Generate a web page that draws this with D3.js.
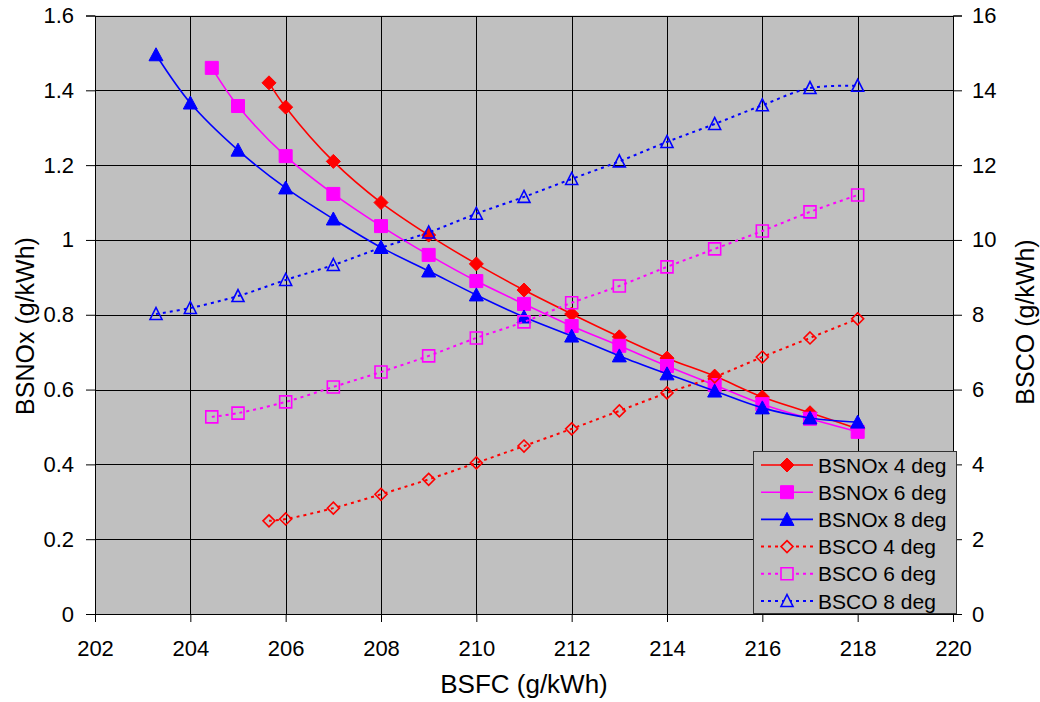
<!DOCTYPE html>
<html><head><meta charset="utf-8">
<script src="https://cdn.jsdelivr.net/npm/d3@7"></script>
<style>body{margin:0;background:#fff}svg{display:block;font-family:"Liberation Sans",Arial,sans-serif}</style>
</head><body><svg id="chart" width="1040" height="702"></svg>
<script>
// ---- data ----
const nox4X = [205.65,206,207,208,209,210,211,212,213,214,215,216,217,218];
const nox4  = [1.42,1.355,1.21,1.10,1.013,0.936,0.866,0.802,0.741,0.684,0.636,0.58,0.538,0.495];
const nox6X = [204.45,205,206,207,208,209,210,211,212,213,214,215,216,217,218];
const nox6  = [1.46,1.358,1.224,1.123,1.037,0.96,0.89,0.829,0.77,0.717,0.663,0.612,0.561,0.522,0.487];
const nox8X = [203.28,204,205,206,207,208,209,210,211,212,213,214,215,216,217,218];
const nox8  = [1.495,1.366,1.24,1.139,1.056,0.98,0.917,0.853,0.794,0.743,0.69,0.642,0.596,0.551,0.524,0.513];
const co4X = [205.65,206,207,208,209,210,211,212,213,214,215,216,217,218];
const co4  = [2.49,2.54,2.83,3.2,3.6,4.04,4.49,4.95,5.43,5.91,6.34,6.87,7.38,7.89];
const co6X = [204.45,205,206,207,208,209,210,211,212,213,214,215,216,217,218];
const co6  = [5.27,5.37,5.67,6.07,6.47,6.9,7.38,7.81,8.32,8.77,9.28,9.76,10.24,10.75,11.2];
const co8X = [203.28,204,205,206,207,208,209,210,211,212,213,214,215,216,217,218];
const co8  = [8.02,8.18,8.5,8.93,9.33,9.79,10.2,10.7,11.15,11.63,12.1,12.62,13.1,13.6,14.06,14.12];
const xTicks = [202,204,206,208,210,212,214,216,218,220];
const yTicks = [0,0.2,0.4,0.6,0.8,1,1.2,1.4,1.6];
const y2Ticks = [0,2,4,6,8,10,12,14,16];
const seriesNames = ["BSNOx 4 deg","BSNOx 6 deg","BSNOx 8 deg","BSCO 4 deg","BSCO 6 deg","BSCO 8 deg"];
const seriesColors = ["#ff0000","#ff00ff","#0000ff","#ff0000","#ff00ff","#0000ff"];
const xTitle = "BSFC (g/kWh)", yTitle = "BSNOx (g/kWh)", y2Title = "BSCO (g/kWh)";

// ---- layout ----
const W = 1040, H = 702;
const L = 95, R = 953, T = 15.5, B = 614;
const svg = d3.select("#chart");
const x = d3.scaleLinear().domain([202,220]).range([L,R]);
const y = d3.scaleLinear().domain([0,1.6]).range([B,T]);
const y2 = d3.scaleLinear().domain([0,16]).range([B,T]);

svg.append("rect").attr("x",L).attr("y",T).attr("width",R-L).attr("height",B-T).attr("fill","#c0c0c0");

// grid
const g = svg.append("g").attr("shape-rendering","crispEdges");
g.selectAll(".hg").data(yTicks).join("line")
  .attr("x1",L).attr("x2",R).attr("y1",d=>Math.round(y(d))+0.5).attr("y2",d=>Math.round(y(d))+0.5)
  .attr("stroke","#000").attr("stroke-width",1);
g.selectAll(".vg").data(xTicks).join("line")
  .attr("y1",T).attr("y2",B).attr("x1",d=>Math.round(x(d))+0.5).attr("x2",d=>Math.round(x(d))+0.5)
  .attr("stroke","#000").attr("stroke-width",1);

// axes
const fmt = d3.format("~g");
const axL = svg.append("g").attr("transform",`translate(${L},0)`)
  .call(d3.axisLeft(y).tickValues(yTicks).tickFormat(fmt).tickSize(9).tickPadding(12));
const axR = svg.append("g").attr("transform",`translate(${R},0)`)
  .call(d3.axisRight(y2).tickValues(y2Ticks).tickFormat(fmt).tickSize(9).tickPadding(10));
const axB = svg.append("g").attr("transform",`translate(0,${B})`)
  .call(d3.axisBottom(x).tickValues(xTicks).tickFormat(fmt).tickSize(8).tickPadding(18));
[axL,axR,axB].forEach(a=>{
  a.select(".domain").attr("stroke","#000");
  a.selectAll(".tick line").attr("stroke","#000");
  a.selectAll("text").attr("font-size",22).attr("fill","#000").attr("font-family",'"Liberation Sans",Arial,sans-serif');
});

// titles
svg.append("text").attr("x",(L+R)/2).attr("y",693).attr("text-anchor","middle").attr("font-size",26).text(xTitle);
svg.append("text").attr("transform","translate(34,326) rotate(-90)").attr("text-anchor","middle").attr("font-size",25).text(yTitle);
svg.append("text").attr("transform","translate(1034,322) rotate(-90)").attr("text-anchor","middle").attr("font-size",25).text(y2Title);

// markers
function markerPath(type, open){
  if(type==="diamond"){ const r = open?6:7; return `M0,${-r}L${r},0L0,${r}L${-r},0Z`; }
  if(type==="square"){ const r = open?6:6.5; return `M${-r},${-r}H${r}V${r}H${-r}Z`; }
  const w = open?6:7, h1 = open?6.5:7, h2 = open?5.5:6; return `M0,${-h1}L${w},${h2}L${-w},${h2}Z`;
}
const types = ["diamond","square","triangle","diamond","square","triangle"];
const series = [
  {xs:nox4X, ys:nox4, sc:y, open:false},
  {xs:nox6X, ys:nox6, sc:y, open:false},
  {xs:nox8X, ys:nox8, sc:y, open:false},
  {xs:co4X, ys:co4, sc:y2, open:true},
  {xs:co6X, ys:co6, sc:y2, open:true},
  {xs:co8X, ys:co8, sc:y2, open:true},
];
const plot = svg.append("g");
series.forEach((s,i)=>{
  const pts = s.xs.map((v,j)=>[x(v), s.sc(s.ys[j])]);
  const line = d3.line().curve(d3.curveCatmullRom.alpha(0.5));
  plot.append("path").attr("d",line(pts)).attr("fill","none").attr("stroke",seriesColors[i])
    .attr("stroke-width",s.open?2:1.6).attr("stroke-dasharray",s.open?"3,4":null);
  plot.append("g").selectAll("path").data(pts).join("path")
    .attr("transform",d=>`translate(${d[0]},${d[1]})`)
    .attr("d",markerPath(types[i],s.open))
    .attr("fill",s.open?"none":seriesColors[i])
    .attr("stroke",seriesColors[i]).attr("stroke-width",s.open?1.6:1);
});

// legend
const lg = svg.append("g");
lg.append("rect").attr("x",753).attr("y",451).attr("width",203).attr("height",162)
  .attr("fill","#c0c0c0").attr("stroke","#333").attr("stroke-width",1).attr("shape-rendering","crispEdges");
seriesNames.forEach((n,i)=>{
  const cy = 465 + i*27.2;
  const open = i>=3;
  lg.append("line").attr("x1",761).attr("x2",813).attr("y1",cy).attr("y2",cy)
    .attr("stroke",seriesColors[i]).attr("stroke-width",open?2:1.6).attr("stroke-dasharray",open?"3,4":null);
  lg.append("path").attr("transform",`translate(787,${cy})`).attr("d",markerPath(types[i],open))
    .attr("fill",open?"#c0c0c0":seriesColors[i]).attr("stroke",seriesColors[i]).attr("stroke-width",open?1.6:1);
  lg.append("text").attr("x",818).attr("y",cy).attr("dy","0.36em").attr("font-size",21).text(n);
});
</script></body></html>
